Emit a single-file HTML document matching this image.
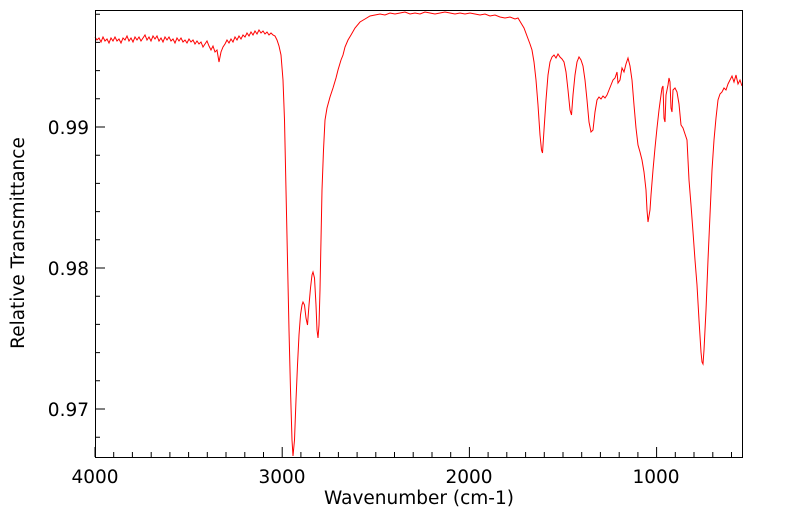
<!DOCTYPE html>
<html><head><meta charset="utf-8"><style>body{margin:0;background:#fff}svg{display:block}</style></head><body>
<svg width="799" height="516" xmlns="http://www.w3.org/2000/svg" font-family="DejaVu Sans, Liberation Sans, sans-serif">
<rect width="799" height="516" fill="#fff"/>
<path stroke="#000" stroke-width="1" fill="none" d="M95,457v-10M113.7,457v-5M132.4,457v-5M151.2,457v-5M169.9,457v-5M188.6,457v-5M207.3,457v-5M226,457v-5M244.8,457v-5M263.5,457v-5M282.2,457v-10M300.9,457v-5M319.6,457v-5M338.4,457v-5M357.1,457v-5M375.8,457v-5M394.5,457v-5M413.2,457v-5M432,457v-5M450.7,457v-5M469.4,457v-10M488.1,457v-5M506.8,457v-5M525.6,457v-5M544.3,457v-5M563,457v-5M581.7,457v-5M600.4,457v-5M619.2,457v-5M637.9,457v-5M656.6,457v-10M675.3,457v-5M694,457v-5M712.8,457v-5M731.5,457v-5
M95,14.2h5M95,42.4h5M95,70.6h5M95,98.8h5M95,127h10M95,155.2h5M95,183.4h5M95,211.6h5M95,239.8h5M95,268h10M95,296.2h5M95,324.4h5M95,352.6h5M95,380.8h5M95,409h10M95,437.2h5"/>
<polyline fill="none" stroke="#f00" stroke-width="1" points="95,37 97,40 99,38 101,42 103,37 105,41 107,39 109,43 111,38 113,41 115,37 117,41 119,39 121,43 123,38 125,40 127,36 129,41 131,38 133,42 135,37 137,40 139,37 141,41 143,38 145,35 147,40 149,37 151,41 153,36 155,39 157,36 159,41 161,38 163,42 165,37 167,40 169,37 171,41 173,39 175,43 177,38 179,41 181,38 183,42 185,40 187,43 189,39 191,42 193,40 195,44 197,41 199,44 201,42 203,47 205,44 207,41 209,46 211,50 213,46 215,52 217,50 219,62 221,52 223,47 225,44 227,40 229,43 231,39 233,42 235,37 237,40 239,36 241,39 243,35 245,37 247,33 249,36 251,32 253,35 255,31 257,34 259,30 261,33 263,31 265,34 267,32 269,35 271,33 273,35 275,36 277,40 279,46 281,55 283,80 284.5,120 286,190 287.5,260 289,330 290.5,390 292,440 293,456 294.5,440 296,400 297.5,365 299,335 300.5,315 302,305 303,302 304.5,305 306,318 307.5,325 309,305 310.5,288 312,275 313,272 314.5,278 316,305 317,330 318,338 319,325 320,290 321,240 322,190 323.5,150 325,120 327,108 330,97 333,88 336,78 338,70 341,60 343,55 345,47 348,40 351,35 355,28 360,22 365,19 370,16 375,15 380,14 385,15 390,13 395,14 400,13 405,12 410,14 415,13 420,14 425,12 430,13 435,14 440,13 445,12 450,13 455,14 460,13 465,14 470,13 475,14 480,15 485,14 490,16 495,15 500,17 505,18 510,17 515,19 518,18 521,23 524,28 527,36 530,44 532,50 534,62 536,80 538,105 540,135 541.5,150 542.5,153 544,130 546,100 548,75 550,62 552,57 554,55 556,58 558,54 560,57 562,59 564,62 566,72 568,90 570,110 571.5,115 573,95 575,75 577,62 579,57 581,60 583,66 585,80 587,100 589,122 591,132 593,130 595,112 597,100 599,97 601,99 603,96 605,98 607,95 609,90 611,85 613,80 615,78 617,72 618,83 620,80 622,68 624,72 626,64 628,58 630,66 632,80 634,105 636,128 638,145 640,152 642,160 644,172 646,190 647,210 648,222 650,210 651,195 653,170 655,148 657,128 659,110 661,95 662,88 663,86 664,118 665,122 666,95 668,85 669,78 670,82 671,108 672,112 673,90 675,88 677,92 679,104 681,125 683,128 685,134 687,140 688,160 689,180 691,205 693,232 695,260 697,285 699,320 701,352 702,362 703,364 704,350 706,310 708,260 710,215 712,170 714,140 716,118 718,100 720,94 722,92 724,88 726,90 728,84 730,80 732,76 734,82 736,75 738,84 740,80 742,86"/>
<rect x="95.5" y="10.5" width="647" height="447" fill="none" stroke="#000" stroke-width="1"/>
<g font-size="18.5" fill="#000">
<text x="95" y="483" text-anchor="middle">4000</text>
<text x="282" y="483" text-anchor="middle">3000</text>
<text x="469" y="483" text-anchor="middle">2000</text>
<text x="656" y="483" text-anchor="middle">1000</text>
<text x="89" y="134" text-anchor="end">0.99</text>
<text x="89" y="275" text-anchor="end">0.98</text>
<text x="89" y="416" text-anchor="end">0.97</text>
<text x="419" y="504" text-anchor="middle">Wavenumber (cm-1)</text>
<text transform="translate(24,243) rotate(-90)" text-anchor="middle">Relative Transmittance</text>
</g>
</svg>
</body></html>
